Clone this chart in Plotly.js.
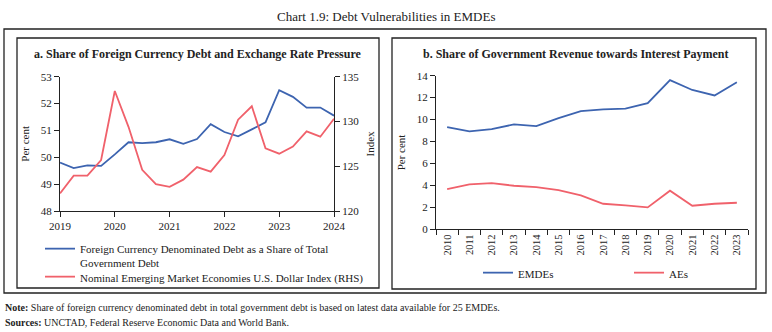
<!DOCTYPE html>
<html>
<head>
<meta charset="utf-8">
<script src="https://cdn.plot.ly/plotly-3.0.1.min.js"></script>
<style>
html,body{margin:0;padding:0;background:#fff;}
#chart{width:772px;height:332px;}
</style>
</head>
<body>
<div id="chart"></div>
<script>
// Panel a: quarterly, 2019 Q1 to 2024 Q1
var quarters = [2019,2019.25,2019.5,2019.75,2020,2020.25,2020.5,2020.75,2021,2021.25,2021.5,2021.75,2022,2022.25,2022.5,2022.75,2023,2023.25,2023.5,2023.75,2024];
var fxDebtShare = [49.80,49.60,49.70,49.68,50.11,50.56,50.53,50.56,50.67,50.50,50.68,51.23,50.94,50.78,51.04,51.30,52.50,52.25,51.85,51.85,51.55];
var emeUsdIndex = [121.97,123.95,123.95,125.7,133.4,129.4,124.6,123.0,122.7,123.5,124.9,124.4,126.25,130.2,131.7,127.0,126.4,127.2,128.9,128.3,130.3];
var yearTicks = [2019,2020,2021,2022,2023,2024];

// Panel b: annual
var years = ["2010","2011","2012","2013","2014","2015","2016","2017","2018","2019","2020","2021","2022","2023"];
var emdes = [9.32,8.92,9.14,9.56,9.41,10.14,10.78,10.93,10.99,11.5,13.6,12.7,12.2,13.4];
var aes = [3.67,4.09,4.21,3.97,3.85,3.57,3.09,2.33,2.18,2.0,3.52,2.15,2.33,2.42];

var W = 772, H = 332;
function px(x){return x/W;}
function py(y){return 1 - y/H;}

var BLUE = '#3D64B0', RED = '#F0616B';
var FONT = 'Liberation Serif, DejaVu Serif, serif';
var AX = '#222';

var traces = [
  {x: quarters, y: fxDebtShare, type:'scatter', mode:'lines', name:'Foreign Currency Denominated Debt as a Share of Total<br>Government Debt',
   line:{color:BLUE, width:1.8}, xaxis:'x', yaxis:'y', legend:'legend', showlegend:true},
  {x: quarters, y: emeUsdIndex, type:'scatter', mode:'lines', name:'Nominal Emerging Market Economies U.S. Dollar Index (RHS)',
   line:{color:RED, width:1.8}, xaxis:'x', yaxis:'y2', legend:'legend2', showlegend:true},
  {x: years, y: emdes, type:'scatter', mode:'lines', name:'EMDEs',
   line:{color:BLUE, width:1.8}, xaxis:'x2', yaxis:'y3', legend:'legend3', showlegend:true},
  {x: years, y: aes, type:'scatter', mode:'lines', name:'AEs',
   line:{color:RED, width:1.8}, xaxis:'x2', yaxis:'y3', legend:'legend4', showlegend:true}
];

var axBase = {showgrid:false, zeroline:false, showline:true, linecolor:AX, linewidth:1,
  ticks:'outside', ticklen:5, tickcolor:AX, tickwidth:1, tickfont:{family:FONT, size:11, color:'#222'}};

var legBase = {xanchor:'left', yanchor:'top', bgcolor:'rgba(0,0,0,0)', visible:true,
  font:{family:FONT, size:11, color:'#222'}, itemwidth:30, valign:'top'};

var layout = {
  width:W, height:H, margin:{l:0,r:0,t:0,b:0}, paper_bgcolor:'#fff', plot_bgcolor:'rgba(0,0,0,0)',
  showlegend:true,
  font:{family:FONT, color:'#222'},
  xaxis: Object.assign({}, axBase, {domain:[px(60), px(334)], range:[2019,2024], tickvals:yearTicks, ticktext:yearTicks.map(String), anchor:'y'}),
  yaxis: Object.assign({}, axBase, {domain:[py(211), py(76.7)], range:[48,53], dtick:1, anchor:'x',
    title:{text:'Per cent', font:{family:FONT, size:11}, standoff:8}}),
  yaxis2: Object.assign({}, axBase, {overlaying:'y', side:'right', range:[120,135], dtick:5, anchor:'x',
    title:{text:'Index', font:{family:FONT, size:11}, standoff:8}}),
  xaxis2: Object.assign({}, axBase, {domain:[px(436), px(748)], type:'category', range:[-0.5,13.5], tickson:'boundaries', tickangle:-90, anchor:'y3',
    tickfont:{family:FONT, size:10.5, color:'#222'}}),
  yaxis3: Object.assign({}, axBase, {domain:[py(229.3), py(75.7)], range:[0,14], dtick:2, anchor:'x2',
    title:{text:'Per cent', font:{family:FONT, size:11}, standoff:8}}),
  legend: Object.assign({}, legBase, {x:px(40), y:py(235), orientation:'v'}),
  legend2: Object.assign({}, legBase, {x:px(40), y:py(263), orientation:'v'}),
  legend3: Object.assign({}, legBase, {x:px(478), y:py(259), orientation:'h'}),
  legend4: Object.assign({}, legBase, {x:px(629), y:py(259), orientation:'h'}),
  shapes:[
    {type:'rect', xref:'paper', yref:'paper', x0:px(4), x1:px(766), y0:py(293), y1:py(29), line:{color:'#222', width:1.3}},
    {type:'rect', xref:'paper', yref:'paper', x0:px(17), x1:px(379), y0:py(288), y1:py(38), line:{color:'#222', width:1.3}},
    {type:'rect', xref:'paper', yref:'paper', x0:px(392), x1:px(756), y0:py(289), y1:py(38), line:{color:'#222', width:1.3}}
  ],
  annotations:[
    {xref:'paper', yref:'paper', x:px(386), y:py(16), text:'Chart 1.9: Debt Vulnerabilities in EMDEs', showarrow:false,
     xanchor:'center', yanchor:'middle', font:{family:FONT, size:13, color:'#222'}},
    {xref:'paper', yref:'paper', x:px(198), y:py(54), text:'<b>a. Share of Foreign Currency Debt and Exchange Rate Pressure</b>', showarrow:false,
     xanchor:'center', yanchor:'middle', font:{family:FONT, size:12, color:'#222'}},
    {xref:'paper', yref:'paper', x:px(576), y:py(54), text:'<b>b. Share of Government Revenue towards Interest Payment</b>', showarrow:false,
     xanchor:'center', yanchor:'middle', font:{family:FONT, size:12, color:'#222'}},
    {xref:'paper', yref:'paper', x:px(3), y:py(307), text:'<b>Note:</b> Share of foreign currency denominated debt in total government debt is based on latest data available for 25 EMDEs.', showarrow:false,
     xanchor:'left', yanchor:'middle', font:{family:FONT, size:10, color:'#222'}},
    {xref:'paper', yref:'paper', x:px(3), y:py(322), text:'<b>Sources:</b> UNCTAD, Federal Reserve Economic Data and World Bank.', showarrow:false,
     xanchor:'left', yanchor:'middle', font:{family:FONT, size:10, color:'#222'}}
  ]
};

Plotly.newPlot('chart', traces, layout, {displayModeBar:false, staticPlot:true});
</script>
</body>
</html>
